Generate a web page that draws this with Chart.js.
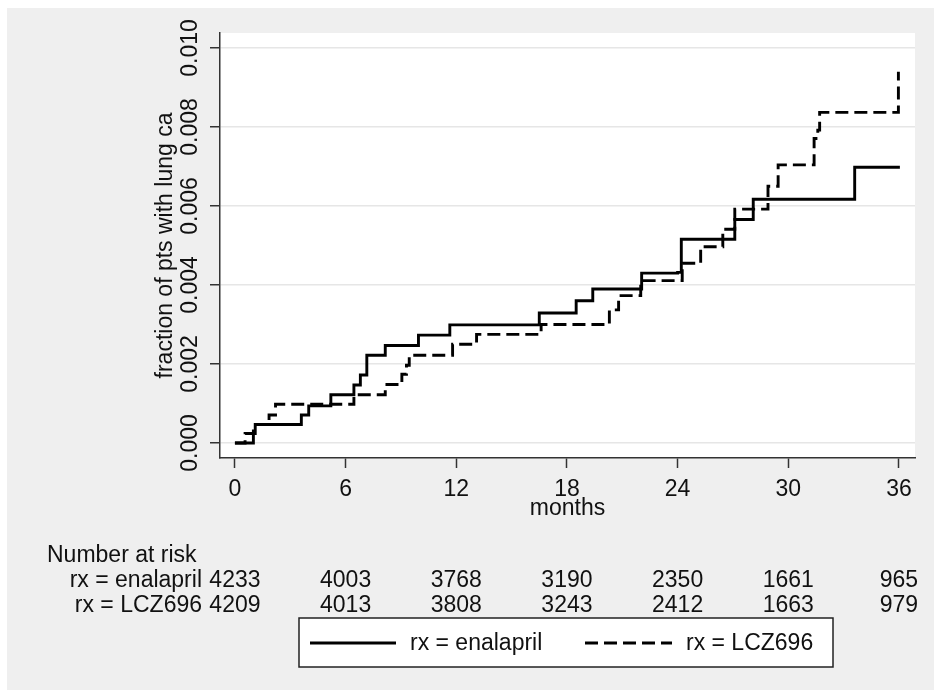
<!DOCTYPE html>
<html>
<head>
<meta charset="utf-8">
<script src="https://cdn.jsdelivr.net/npm/chart.js@4"></script>
<style>
  body { margin: 0; background: #fff; }
  #wrap { width: 934px; height: 690px; }
</style>
</head>
<body>
<div id="wrap"><canvas id="kmChart" width="934" height="690"></canvas></div>
<script>
// Kaplan-Meier step data (months, cumulative fraction)
const enalaprilMonths = [0, 1.0, 1.1, 3.6, 4.0, 5.2, 6.45, 6.8, 7.15, 8.15, 9.95, 11.65, 16.5, 18.5, 19.4, 22.05, 24.0, 24.2, 27.1, 28.1, 33.6, 36.05];
const enalaprilValues = [0, 0.00024, 0.00047, 0.00071, 0.00094, 0.00122, 0.00147, 0.00172, 0.00222, 0.00247, 0.00273, 0.00299, 0.00329, 0.0036, 0.0039, 0.0043, 0.00432, 0.00516, 0.00566, 0.00617, 0.00698, 0.00698];

const lczMonths = [0, 0.55, 1.0, 1.85, 2.2, 6.45, 8.15, 9.05, 9.3, 9.45, 11.8, 13.1, 16.6, 20.3, 20.8, 22.0, 24.25, 25.25, 26.45, 27.1, 28.9, 29.45, 31.4, 31.6, 31.7, 35.97];
const lczValues = [0, 0.00024, 0.00047, 0.00071, 0.00098, 0.00122, 0.00148, 0.00174, 0.00197, 0.00222, 0.0025, 0.00275, 0.003, 0.00337, 0.00373, 0.00411, 0.00455, 0.00497, 0.00541, 0.00592, 0.0065, 0.00704, 0.00771, 0.00792, 0.00837, 0.0094];

// axis ticks
const xTicks = [0, 6, 12, 18, 24, 30, 36];
const yTicks = [0, 0.002, 0.004, 0.006, 0.008, 0.010];
const yTickLabels = ['0.000', '0.002', '0.004', '0.006', '0.008', '0.010'];

// number at risk table
const riskTimes = [0, 6, 12, 18, 24, 30, 36];
const riskGroups = ['rx = enalapril', 'rx = LCZ696'];
const riskEnalapril = [4233, 4003, 3768, 3190, 2350, 1661, 965];
const riskLCZ696 = [4209, 4013, 3808, 3243, 2412, 1663, 979];

const FONT = "'Liberation Sans', Arial, sans-serif";
const DASH = [13, 6];

function toPoints(xs, ys) {
    return xs.map((x, i) => ({ x: x, y: ys[i] }));
}

// gray page + white plot region
const backgroundPlugin = {
    id: 'background',
    beforeDraw(chart) {
        const ctx = chart.ctx;
        const a = chart.chartArea;
        ctx.save();
        ctx.fillStyle = '#ffffff';
        ctx.fillRect(0, 0, chart.width, chart.height);
        ctx.fillStyle = '#efefef';
        ctx.fillRect(7, 8, chart.width - 7, chart.height - 8);
        ctx.fillStyle = '#ffffff';
        ctx.fillRect(a.left, a.top, a.right - a.left, a.bottom - a.top);
        ctx.restore();
    }
};

// rotated y tick labels, risk table and the boxed legend
const extrasPlugin = {
    id: 'extras',
    afterDraw(chart) {
        const ctx = chart.ctx;
        const xs = chart.scales.x;
        const ys = chart.scales.y;
        ctx.save();
        ctx.fillStyle = '#111';
        ctx.font = '23px ' + FONT;

        // y tick labels, reading upwards
        ctx.textAlign = 'center';
        ctx.textBaseline = 'middle';
        yTicks.forEach((v, i) => {
            ctx.save();
            ctx.translate(191, ys.getPixelForValue(v));
            ctx.rotate(-Math.PI / 2);
            ctx.fillText(yTickLabels[i], 0, 0);
            ctx.restore();
        });

        // number at risk
        ctx.textAlign = 'left';
        ctx.fillText('Number at risk', 47, 556);
        const rows = [riskEnalapril, riskLCZ696];
        const rowY = [581, 606];
        rows.forEach((row, r) => {
            ctx.textAlign = 'right';
            ctx.fillText(riskGroups[r], 202, rowY[r]);
            ctx.textAlign = 'center';
            row.forEach((n, i) => {
                ctx.fillText(String(n), xs.getPixelForValue(riskTimes[i]), rowY[r]);
            });
        });

        // legend box
        ctx.fillStyle = '#ffffff';
        ctx.fillRect(299, 618, 534, 49);
        ctx.strokeStyle = '#222';
        ctx.lineWidth = 1.5;
        ctx.strokeRect(299, 618, 534, 49);

        ctx.strokeStyle = '#000';
        ctx.lineWidth = 2.8;
        ctx.beginPath();
        ctx.moveTo(310, 643);
        ctx.lineTo(396, 643);
        ctx.stroke();
        ctx.setLineDash(DASH);
        ctx.beginPath();
        ctx.moveTo(585, 643);
        ctx.lineTo(672, 643);
        ctx.stroke();
        ctx.setLineDash([]);

        ctx.fillStyle = '#111';
        ctx.textAlign = 'left';
        ctx.fillText(riskGroups[0], 410, 644);
        ctx.fillText(riskGroups[1], 686, 644);
        ctx.restore();
    }
};

const ctx = document.getElementById('kmChart').getContext('2d');
const myChart = new Chart(ctx, {
    type: 'line',
    data: {
        datasets: [
            {
                label: riskGroups[0],
                data: toPoints(enalaprilMonths, enalaprilValues),
                borderColor: '#000',
                borderWidth: 2.9,
                pointRadius: 0,
                stepped: true,
                fill: false
            },
            {
                label: riskGroups[1],
                data: toPoints(lczMonths, lczValues),
                borderColor: '#000',
                borderWidth: 2.9,
                borderDash: DASH,
                pointRadius: 0,
                stepped: true,
                fill: false
            }
        ]
    },
    options: {
        responsive: false,
        animation: false,
        events: [],
        layout: { padding: { left: 140, top: 33, right: 19, bottom: 168 } },
        plugins: {
            legend: { display: false },
            tooltip: { enabled: false }
        },
        scales: {
            x: {
                type: 'linear',
                min: -0.81,
                max: 36.87,
                afterBuildTicks: s => { s.ticks = xTicks.map(v => ({ value: v })); },
                afterFit: s => { s.height = 64; },
                grid: { drawOnChartArea: false, drawTicks: true, tickLength: 10, tickColor: '#333', tickWidth: 1.5 },
                border: { color: '#333', width: 1.5 },
                ticks: { font: { family: FONT, size: 23 }, color: '#111', padding: 8, maxRotation: 0 },
                title: { display: true, text: 'months', font: { family: FONT, size: 23, lineHeight: 1.2 }, color: '#111', padding: 0 }
            },
            y: {
                type: 'linear',
                min: -0.00038,
                max: 0.01038,
                afterBuildTicks: s => { s.ticks = yTicks.map(v => ({ value: v })); },
                afterFit: s => { s.width = 80; },
                grid: { color: '#e6e6e6', lineWidth: 1.5, drawTicks: true, tickLength: 10, tickColor: '#333', tickWidth: 1.5 },
                border: { color: '#333', width: 1.5 },
                ticks: { display: false },
                title: { display: true, text: 'fraction of pts with lung ca', font: { family: FONT, size: 23, lineHeight: 1.2 }, color: '#111', padding: { top: 12, bottom: 0 } }
            }
        }
    },
    plugins: [backgroundPlugin, extrasPlugin]
});
</script>
</body>
</html>
